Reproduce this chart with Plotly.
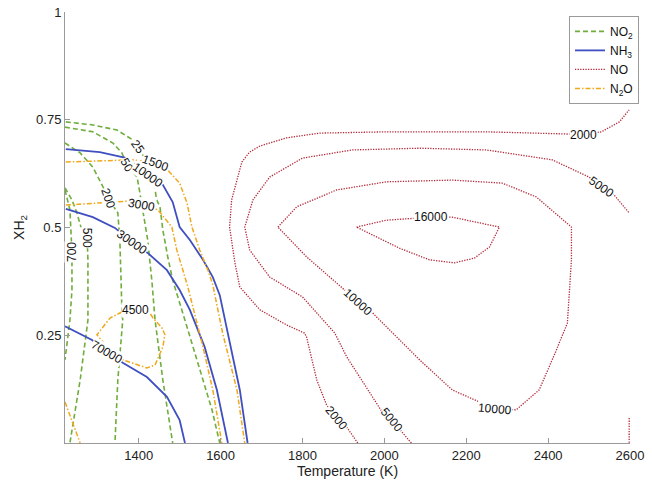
import plotly.graph_objects as go

# ---------------- data (Temperature K, XH2) ----------------
# NO2 contours
no2_25_x = [1222, 1288, 1347, 1386, 1398, 1415, 1435, 1444, 1452, 1459, 1471, 1483, 1513, 1549, 1579, 1598]
no2_25_y = [0.745, 0.738, 0.726, 0.703, 0.687, 0.661, 0.617, 0.564, 0.548, 0.494, 0.432, 0.378, 0.285, 0.169, 0.077, 0.0]
no2_50_x = [1220, 1288, 1337, 1359, 1371, 1396, 1403, 1410, 1422, 1432, 1440, 1459, 1483]
no2_50_y = [0.733, 0.722, 0.696, 0.673, 0.645, 0.617, 0.580, 0.541, 0.471, 0.378, 0.285, 0.146, 0.0]
no2_200_x = [1220, 1257, 1288, 1313, 1325, 1349, 1354, 1356, 1359, 1361, 1349, 1342]
no2_200_y = [0.696, 0.673, 0.640, 0.594, 0.568, 0.534, 0.471, 0.378, 0.309, 0.285, 0.146, 0.0]
no2_500_x = [1220, 1237, 1249, 1261, 1274, 1276, 1276, 1276, 1257, 1232]
no2_500_y = [0.592, 0.564, 0.534, 0.494, 0.476, 0.425, 0.332, 0.285, 0.146, 0.0]
no2_700_x = [1220, 1232, 1237, 1237, 1232, 1220]
no2_700_y = [0.587, 0.541, 0.443, 0.355, 0.285, 0.193]

# NH3 contours
nh3_10000_x = [1222, 1305, 1371, 1422, 1459, 1483, 1500, 1525, 1557, 1581, 1598, 1622, 1647, 1666]
nh3_10000_y = [0.682, 0.675, 0.661, 0.622, 0.599, 0.559, 0.501, 0.471, 0.425, 0.385, 0.343, 0.239, 0.123, 0.0]
nh3_30000_x = [1222, 1288, 1342, 1383, 1422, 1469, 1500, 1525, 1561, 1591, 1618]
nh3_30000_y = [0.543, 0.524, 0.499, 0.466, 0.441, 0.401, 0.355, 0.309, 0.223, 0.123, 0.0]
nh3_70000_x = [1220, 1286, 1322, 1361, 1420, 1469, 1500, 1513]
nh3_70000_y = [0.271, 0.239, 0.211, 0.186, 0.153, 0.107, 0.053, 0.0]

# NO contours
no_2000_x = [1935, 1908, 1883, 1859, 1835, 1810, 1805, 1761, 1696, 1647, 1635, 1630, 1622, 1627, 1640,
             1652, 1671, 1696, 1761, 1842, 2005, 2249, 2444, 2486, 2530, 2574, 2598]
no_2000_y = [0.0, 0.037, 0.058, 0.088, 0.146, 0.246, 0.255, 0.274, 0.309, 0.362, 0.418, 0.448, 0.501, 0.564, 0.610,
             0.652, 0.675, 0.689, 0.708, 0.719, 0.722, 0.722, 0.717, 0.715, 0.722, 0.745, 0.773]
no_2000b_x = [2598, 2598]
no_2000b_y = [0.058, 0.0]
no_5000_x = [2066, 2018, 1996, 1908, 1879, 1800, 1720, 1671, 1659, 1679, 1720, 1800, 1922, 2086, 2249, 2410,
             2500, 2530, 2557, 2598]
no_5000_y = [0.0, 0.053, 0.070, 0.200, 0.255, 0.339, 0.385, 0.448, 0.501, 0.564, 0.617, 0.661, 0.680, 0.684,
             0.680, 0.657, 0.617, 0.594, 0.580, 0.534]
no_10000_x = [1740, 1786, 1883, 2005, 2166, 2288, 2371, 2457, 2457, 2452, 2447, 2427, 2420, 2378, 2322, 2271,
              2232, 2166, 2086, 1971, 1935, 1903, 1810, 1740]
no_10000_y = [0.501, 0.548, 0.587, 0.606, 0.610, 0.603, 0.571, 0.501, 0.425, 0.343, 0.278, 0.232, 0.215, 0.123,
              0.077, 0.079, 0.095, 0.123, 0.193, 0.302, 0.327, 0.355, 0.432, 0.501]
no_16000_x = [1932, 2005, 2115, 2166, 2281, 2257, 2220, 2171, 2110, 2037, 1932]
no_16000_y = [0.501, 0.517, 0.524, 0.524, 0.501, 0.455, 0.429, 0.418, 0.425, 0.452, 0.501]

# N2O contours
n2o_1500_x = [1222, 1305, 1386, 1440, 1471, 1500, 1518, 1530, 1549, 1569, 1581, 1605, 1640, 1659]
n2o_1500_y = [0.652, 0.654, 0.657, 0.650, 0.633, 0.603, 0.557, 0.501, 0.448, 0.401, 0.367, 0.255, 0.123, 0.0]
n2o_3000_x = [1222, 1305, 1371, 1408, 1447, 1481, 1493, 1508, 1520, 1557, 1581, 1603]
n2o_3000_y = [0.552, 0.557, 0.561, 0.552, 0.541, 0.501, 0.448, 0.401, 0.362, 0.223, 0.123, 0.0]
n2o_4500_x = [1359, 1330, 1298, 1330, 1361, 1420, 1440, 1459, 1464, 1457, 1435, 1427, 1391, 1359]
n2o_4500_y = [0.304, 0.290, 0.251, 0.216, 0.193, 0.174, 0.181, 0.223, 0.251, 0.267, 0.290, 0.302, 0.309, 0.304]
n2o_low_x = [1220, 1257]
n2o_low_y = [0.095, 0.0]

# contour labels: text, x, y, angle
label_text = ["25", "50", "200", "500", "700",
              "10000", "30000", "70000",
              "2000", "2000", "5000", "5000", "10000", "10000", "16000",
              "1500", "3000", "4500"]
label_x = [1398, 1371, 1325, 1274, 1237,
           1422, 1383, 1322,
           1883, 2486, 2018, 2530, 1935, 2271, 2115,
           1440, 1408, 1391]
label_y = [0.687, 0.645, 0.568, 0.476, 0.443,
           0.622, 0.466, 0.211,
           0.058, 0.715, 0.053, 0.594, 0.327, 0.079, 0.524,
           0.650, 0.552, 0.309]
label_angle = [55, 60, 70, 90, -90,
               35, 35, 30,
               50, 0, 50, 35, 42, 5, 0,
               20, 10, 0]

# ---------------- styles ----------------
GREEN = "#6fae3c"
BLUE = "#3f4fc0"
RED = "#b22a3a"
ORANGE = "#f0a81c"
FONT = "Liberation Sans, Arial, sans-serif"

species = [
    ("NO<sub>2</sub>", GREEN, "5px,3px", 1.6,
     [(no2_25_x, no2_25_y), (no2_50_x, no2_50_y), (no2_200_x, no2_200_y),
      (no2_500_x, no2_500_y), (no2_700_x, no2_700_y)]),
    ("NH<sub>3</sub>", BLUE, "solid", 1.8,
     [(nh3_10000_x, nh3_10000_y), (nh3_30000_x, nh3_30000_y), (nh3_70000_x, nh3_70000_y)]),
    ("NO", RED, "1.3px,1.3px", 1.3,
     [(no_2000_x, no_2000_y), (no_2000b_x, no_2000b_y), (no_5000_x, no_5000_y),
      (no_10000_x, no_10000_y), (no_16000_x, no_16000_y)]),
    ("N<sub>2</sub>O", ORANGE, "5px,2px,1.5px,2px", 1.5,
     [(n2o_1500_x, n2o_1500_y), (n2o_3000_x, n2o_3000_y), (n2o_4500_x, n2o_4500_y),
      (n2o_low_x, n2o_low_y)]),
]

fig = go.Figure()
for name, color, dash, width, lines in species:
    for i, (xs, ys) in enumerate(lines):
        fig.add_trace(go.Scatter(
            x=xs, y=ys, mode="lines", name=name, legendgroup=name,
            showlegend=(i == 0),
            line=dict(color=color, dash=dash, width=width),
            hoverinfo="skip",
        ))

for t, x, y, a in zip(label_text, label_x, label_y, label_angle):
    fig.add_annotation(x=x, y=y, text=t, textangle=a, showarrow=False,
                       font=dict(family=FONT, size=12, color="#111"),
                       bgcolor="white", borderpad=0)

axis_common = dict(showline=True, linecolor="#9a9a9a", linewidth=1, ticks="inside", ticklen=5,
                   tickcolor="#9a9a9a", showgrid=False, zeroline=False, mirror=False,
                   automargin=False,
                   tickfont=dict(family=FONT, size=13, color="#222"))

fig.update_layout(
    width=652, height=487,
    margin=dict(l=65, r=22, t=12, b=44, autoexpand=False),
    plot_bgcolor="white", paper_bgcolor="white",
    xaxis=dict(range=[1220, 2600], tickvals=[1400, 1600, 1800, 2000, 2200, 2400, 2600],
               title=dict(text="Temperature (K)", standoff=4,
                          font=dict(family=FONT, size=14, color="#222")),
               **axis_common),
    yaxis=dict(range=[0, 1], tickvals=[0.25, 0.5, 0.75, 1], ticktext=["0.25", "0.5", "0.75", "1"],
               title=dict(text="XH<sub>2</sub>", standoff=8,
                          font=dict(family=FONT, size=14, color="#222")),
               **axis_common),
    legend=dict(x=0.892, y=0.991, xanchor="left", yanchor="top", bgcolor="white",
                bordercolor="#9a9a9a", borderwidth=1, itemwidth=30, tracegroupgap=0,
                font=dict(family=FONT, size=12, color="#111")),
    showlegend=True,
)

fig.write_html("out.html", config={"displayModeBar": False},
               post_script="document.body.style.margin='0';")
